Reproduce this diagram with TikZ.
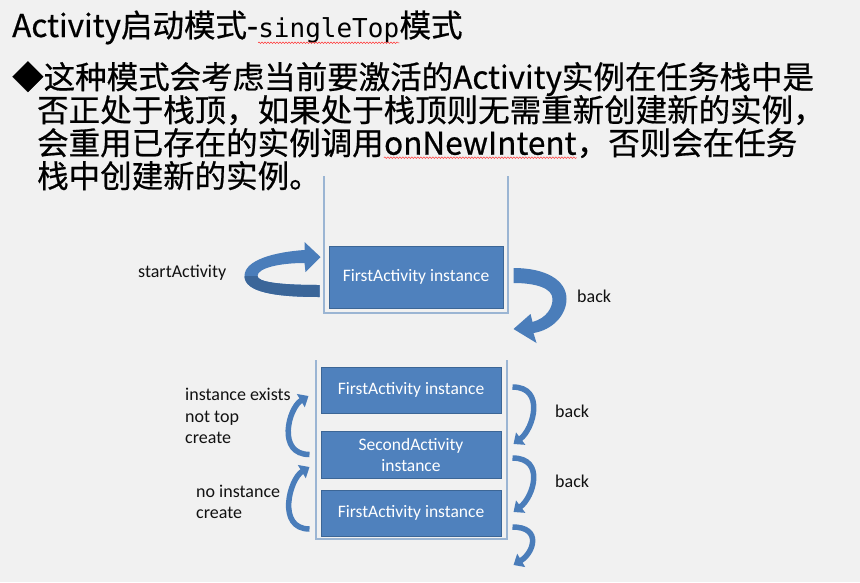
\documentclass[tikz,border=0pt]{standalone}
\usepackage{fontspec}
\setmainfont{Noto Sans CJK SC}[FakeBold=0.6]
\newfontfamily\labelfont{Carlito}
\newfontfamily\monofont{DejaVu Sans Mono}
\usepackage{tikz}
\usetikzlibrary{arrows.meta,calc,decorations.pathmorphing,positioning}
\definecolor{bgc}{HTML}{F1F1F1}
\definecolor{boxfill}{HTML}{4F81BD}
\definecolor{boxline}{HTML}{3C6696}
\definecolor{arrowfill}{HTML}{4A7DBA}
\definecolor{arrowdark}{HTML}{3B6699}
\definecolor{stackline}{HTML}{9BB5D3}
\definecolor{labeltext}{HTML}{111111}
\tikzset{
    box/.style={rectangle, draw=boxline, line width=1pt, fill=boxfill,
        text=white, font=\labelfont\fontsize{17.5}{21}\selectfont,
        minimum width=180pt, minimum height=46pt, inner sep=2pt, align=center},
    lbl/.style={font=\labelfont\fontsize{18}{21.5}\selectfont, text=labeltext,
        inner sep=0pt, align=left},
    txt/.style={font=\fontsize{31.5}{33}\selectfont, inner sep=0pt},
    ttl/.style={font=\fontsize{31.5}{33}\selectfont, inner sep=0pt},
    stack/.style={draw=stackline, line width=1.2pt},
    ribbon/.style={fill=arrowfill},
    bendarrow/.style={draw=arrowfill, line width=5.5pt, -{Triangle[length=9pt,width=15pt]}},
    squiggle/.style={draw=red!80, line width=0.5pt, decorate,
        decoration={snake, amplitude=0.8pt, segment length=3pt}}
}

\begin{document}
\begin{tikzpicture}[x=1pt, y=-1pt]
    \fill[bgc] (0,0) rectangle (860,582);
    \useasboundingbox (0,0) rectangle (860,582);

    % title and text
    \node[ttl, anchor=base west] (t1) at (12,37) {Activity启动模式-};
    \node[ttl, anchor=base west, font=\monofont\fontsize{26}{30}\selectfont] (t2) at (t1.base east) {singleTop};
    \node[ttl, anchor=base west] (t3) at (t2.base east) {模式};
    \node[txt, anchor=base west] (l1) at (12,88.7) {◆这种模式会考虑当前要激活的Activity实例在任务栈中是};
    \node[txt, anchor=base west] (l2) at (37,121.7) {否正处于栈顶，如果处于栈顶则无需重新创建新的实例，};
    \node[txt, anchor=base west] (l3a) at (37,154.7) {会重用已存在的实例调用};
    \node[txt, anchor=base west] (l3b) at (l3a.base east) {onNewIntent};
    \node[txt, anchor=base west] (l3c) at (l3b.base east) {，否则会在任务};
    \node[txt, anchor=base west] (l4) at (37,187.7) {栈中创建新的实例。};
    \draw[squiggle] (t2.south west) -- (t2.south east);
    \draw[squiggle] ($(l3b.base west)+(0,3)$) -- ($(l3b.base east)+(0,3)$);

    % upper stack
    \draw[stack] (324,176) -- (324,313) -- (508,313) -- (508,176);
    \node[box, minimum width=174pt, minimum height=62pt] (fa) at (416,277) {FirstActivity instance};
    \node[lbl, anchor=west] (sa) at (138,273) {startActivity};
    \node[lbl, anchor=west] (bk1) at (577,296) {back};
    \begin{scope}[shift={(fa.west)}]
        \fill[ribbon] (-9,20) .. controls (-54,20) and (-84,15) .. (-84,-1)
            .. controls (-84,-17) and (-54,-25) .. (-24,-27) -- (-24,-35) -- (-8,-20)
            -- (-23,-5) -- (-24,-14) .. controls (-49,-14) and (-71,-9) .. (-71,-1)
            .. controls (-71,5) and (-49,8) .. (-9,8) -- cycle;
        \fill[arrowdark] (-84,-1) .. controls (-84,15) and (-54,20) .. (-9,20)
            -- (-9,8) .. controls (-49,8) and (-71,5) .. (-71,-1) -- cycle;
    \end{scope}
    \begin{scope}[shift={(fa.east)}]
        \fill[ribbon] (10,-9) .. controls (42,-9) and (63,3) .. (63,22)
            .. controls (63,38) and (49,53) .. (30,56) -- (33,66) -- (10,52)
            -- (27,37) -- (29,45) .. controls (43,41) and (49,31) .. (49,22)
            .. controls (49,11) and (32,6) .. (10,6) -- cycle;
    \end{scope}

    % lower stack
    \draw[stack] (316,360) -- (316,539) -- (507,539) -- (507,360);
    \node[box] (f1) at (411,390) {FirstActivity instance};
    \node[box, minimum height=47pt, below=17pt of f1] (s2) {SecondActivity\\instance};
    \node[box, below=11pt of s2] (f3) {FirstActivity instance};
    \coordinate (out) at ($(f3.east)+(12,52)$);
    \node[lbl, anchor=west] (bk2) at (555,411) {back};
    \node[lbl, anchor=west] (bk3) at (555,481) {back};
    \node[lbl, anchor=west] (ie) at (185,416) {instance exists\\not top\\create};
    \node[lbl, anchor=west] (ni) at (196,502) {no instance\\create};
    \draw[bendarrow] ($(f1.east)+(11,-3)$) .. controls +(33,0) and +(20,-15) .. ($(s2.east)+(12,-10.5)$);
    \draw[bendarrow] ($(s2.east)+(11,3.5)$) .. controls +(33,0) and +(20,-15) .. ($(f3.east)+(12,-1)$);
    \draw[bendarrow] ($(f3.east)+(11,14)$) .. controls +(30,0) and +(20,-12) .. (out);
    \draw[bendarrow] ($(s2.west)+(-11,0)$) .. controls +(-33,0) and +(-20,12) .. ($(f1.west)+(-12,6)$);
    \draw[bendarrow] ($(f3.west)+(-11,16)$) .. controls +(-33,0) and +(-20,12) .. ($(s2.west)+(-11,12.5)$);
\end{tikzpicture}
\end{document}
